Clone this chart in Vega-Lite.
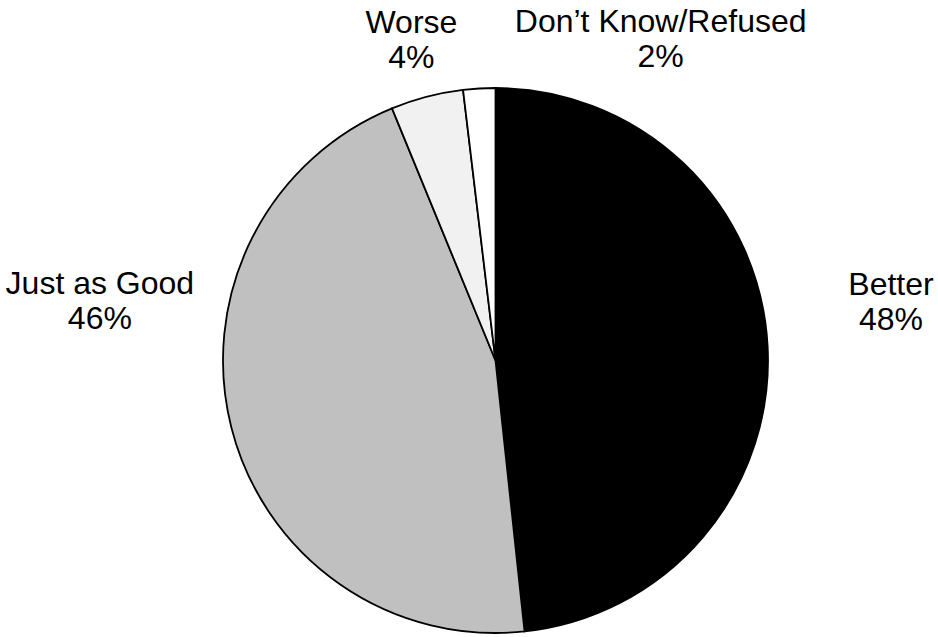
{
  "$schema": "https://vega.github.io/schema/vega-lite/v6.json",
  "autosize": "none",
  "width": 545,
  "height": 545,
  "padding": {"left": 223, "top": 88, "right": 170, "bottom": 4},
  "background": "white",
  "config": {"view": {"stroke": null}},
  "data": {
    "values": [
      {"category": "Better", "value": 48.3, "order": 1, "label": "Better\n48%"},
      {"category": "Just as Good", "value": 45.5, "order": 2, "label": "Just as Good\n46%"},
      {"category": "Worse", "value": 4.3, "order": 3, "label": "Worse\n4%"},
      {"category": "Don’t Know/Refused", "value": 1.9, "order": 4, "label": "Don’t Know/Refused\n2%"}
    ]
  },
  "layer": [
    {
      "mark": {"type": "arc", "stroke": "black", "strokeWidth": 1.8, "radius": 272.5},
      "encoding": {
        "theta": {"field": "value", "type": "quantitative", "stack": true, "scale": {"domain": [0, 100]}},
        "order": {"field": "order", "type": "quantitative"},
        "color": {
          "field": "category", "type": "nominal", "legend": null,
          "scale": {"domain": ["Better", "Just as Good", "Worse", "Don’t Know/Refused"], "range": ["#000000", "#c0c0c0", "#f1f1f1", "#ffffff"]}
        }
      }
    },
    {
      "mark": {"type": "text", "radius": 399.8, "dx": -3.7, "dy": -54, "font": "Liberation Sans", "fontSize": 32, "lineBreak": "\n", "lineHeight": 35, "align": "center", "baseline": "middle", "color": "black"},
      "encoding": {
        "theta": {"field": "value", "type": "quantitative", "stack": true, "scale": {"domain": [0, 100]}},
        "order": {"field": "order", "type": "quantitative"},
        "text": {"condition": {"test": "datum.category === 'Better'", "field": "label"}, "value": ""}
      }
    },
    {
      "mark": {"type": "text", "radius": 400, "dx": -7.9, "dy": -174.3, "font": "Liberation Sans", "fontSize": 32, "lineBreak": "\n", "lineHeight": 35, "align": "center", "baseline": "middle", "color": "black"},
      "encoding": {
        "theta": {"field": "value", "type": "quantitative", "stack": true, "scale": {"domain": [0, 100]}},
        "order": {"field": "order", "type": "quantitative"},
        "text": {"condition": {"test": "datum.category === 'Just as Good'", "field": "label"}, "value": ""}
      }
    },
    {
      "mark": {"type": "text", "radius": 332, "dx": -0.5, "dy": -16.5, "font": "Liberation Sans", "fontSize": 32, "lineBreak": "\n", "lineHeight": 35, "align": "center", "baseline": "middle", "color": "black"},
      "encoding": {
        "theta": {"field": "value", "type": "quantitative", "stack": true, "scale": {"domain": [0, 100]}},
        "order": {"field": "order", "type": "quantitative"},
        "text": {"condition": {"test": "datum.category === 'Worse'", "field": "label"}, "value": ""}
      }
    },
    {
      "mark": {"type": "text", "radius": 361, "dx": 186.7, "dy": 22, "font": "Liberation Sans", "fontSize": 32, "lineBreak": "\n", "lineHeight": 35, "align": "center", "baseline": "middle", "color": "black"},
      "encoding": {
        "theta": {"field": "value", "type": "quantitative", "stack": true, "scale": {"domain": [0, 100]}},
        "order": {"field": "order", "type": "quantitative"},
        "text": {"condition": {"test": "datum.category === 'Don’t Know/Refused'", "field": "label"}, "value": ""}
      }
    }
  ]
}
